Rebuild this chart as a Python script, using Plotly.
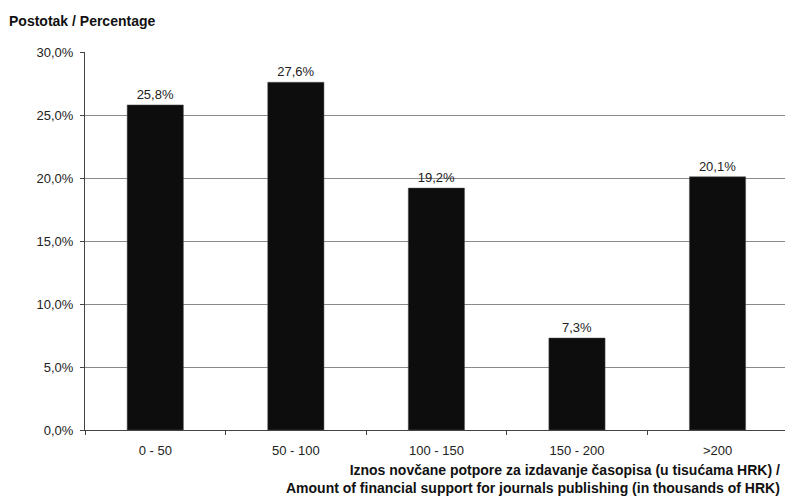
import plotly.graph_objects as go

categories = ["0 - 50", "50 - 100", "100 - 150", "150 - 200", ">200"]
values = [25.8, 27.6, 19.2, 7.3, 20.1]
y_ticks = [0, 5, 10, 15, 20, 25, 30]
y_tick_labels = ["0,0%", "5,0%", "10,0%", "15,0%", "20,0%", "25,0%", "30,0%"]

W, H = 785, 500
ML, MT, MR, MB = 85, 52, 0, 70
PW, PH = W - ML - MR, H - MT - MB

fig = go.Figure()
fig.add_trace(go.Bar(
    x=categories, y=values,
    marker=dict(color="#0d0d0d", line=dict(color="#555555", width=0.5)),
    texttemplate="%{y:.1f}%", textposition="outside",
    textfont=dict(family="Liberation Sans, Arial", size=13, color="#222222"),
    cliponaxis=False,
))

fig.update_layout(
    width=W, height=H,
    margin=dict(l=ML, r=MR, t=MT, b=MB, autoexpand=False),
    paper_bgcolor="white", plot_bgcolor="white",
    separators=",.",
    bargap=0.6,
    showlegend=False,
    font=dict(family="Liberation Sans, Arial", size=13, color="#222222"),
    xaxis=dict(
        type="category",
        range=[-0.5, 4.48],
        automargin=False,
        showline=True, linecolor="#444444", linewidth=1,
        ticks="outside", tickson="boundaries", ticklen=4, tickcolor="#444444",
        ticklabelstandoff=8,
        showgrid=False,
        tickfont=dict(size=13, color="#222222"),
    ),
    yaxis=dict(
        range=[0, 30], tickvals=y_ticks, ticktext=y_tick_labels,
        automargin=False,
        showline=True, linecolor="#444444", linewidth=1,
        ticks="outside", ticklen=4, tickcolor="#444444",
        ticklabelstandoff=4,
        showgrid=True, gridcolor="#8a8a8a", gridwidth=1,
        zeroline=False,
        tickfont=dict(size=13, color="#222222"),
    ),
    annotations=[
        dict(text="Postotak / Percentage", xref="paper", yref="paper",
             x=-78 / PW, y=1 + 31 / PH, xanchor="left", yanchor="middle",
             showarrow=False, font=dict(size=14, color="#111111", weight="bold")),
        dict(text="Iznos novčane potpore za izdavanje časopisa (u tisućama HRK) /<br>"
                  "Amount of financial support for journals publishing (in thousands of HRK)",
             xref="paper", yref="paper", x=1.0, xshift=-3, y=-30 / PH,
             xanchor="right", yanchor="top", align="right", showarrow=False,
             font=dict(size=14, color="#111111", weight="bold")),
    ],
)

fig.write_html(
    "out.html",
    config={"displayModeBar": False},
    post_script="document.body.style.margin='0';document.body.style.overflow='hidden';",
)
